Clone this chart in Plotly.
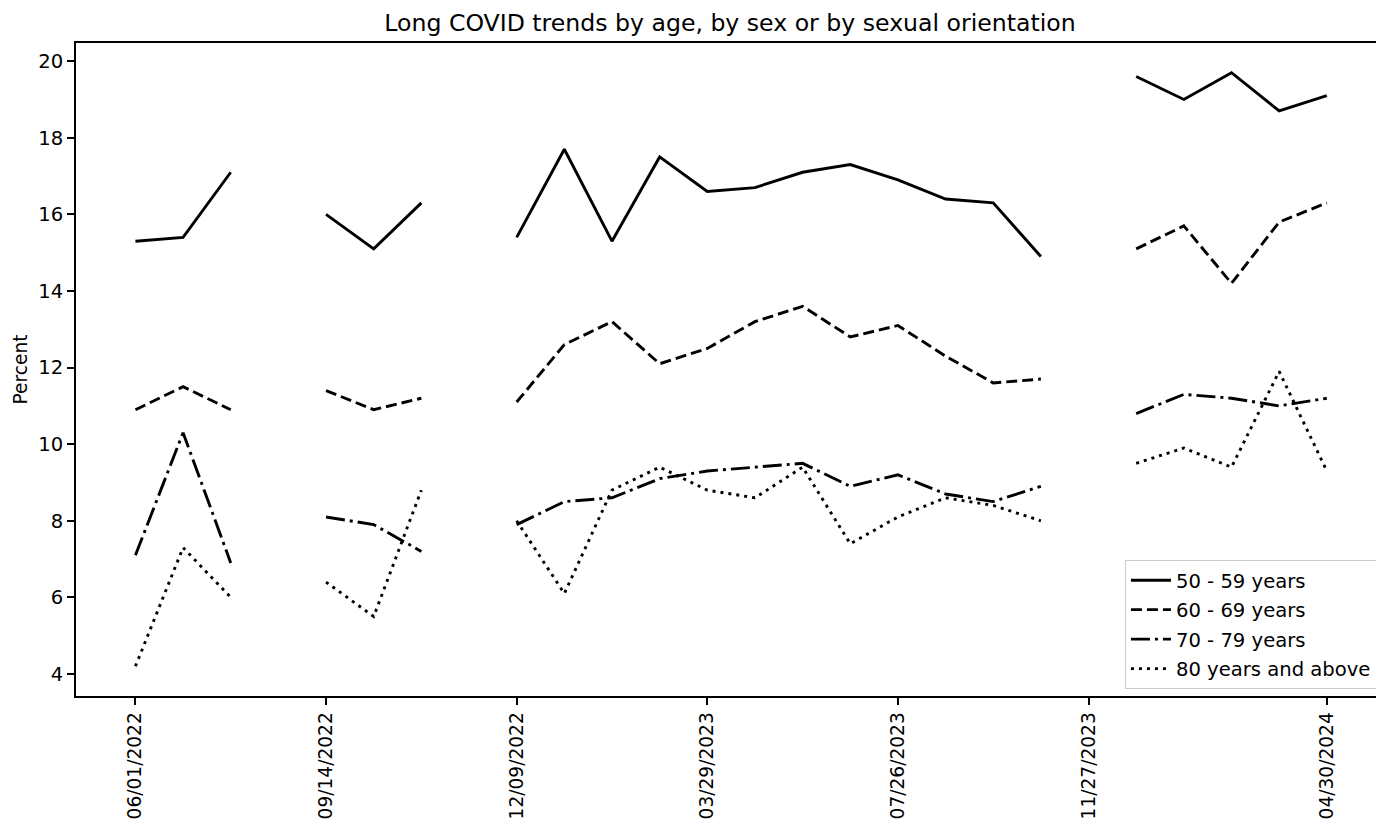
import plotly.graph_objects as go

# Survey periods (positions along a categorical time axis); None marks gaps
period_index = list(range(26))
tick_positions = [0, 4, 8, 12, 16, 20, 25]
tick_labels = ["06/01/2022", "09/14/2022", "12/09/2022", "03/29/2023",
               "07/26/2023", "11/27/2023", "04/30/2024"]

age_50_59 = [15.3, 15.4, 17.1, None, 16.0, 15.1, 16.3, None, 15.4, 17.7, 15.3, 17.5,
             16.6, 16.7, 17.1, 17.3, 16.9, 16.4, 16.3, 14.9, None, 19.6, 19.0, 19.7,
             18.7, 19.1]
age_60_69 = [10.9, 11.5, 10.9, None, 11.4, 10.9, 11.2, None, 11.1, 12.6, 13.2, 12.1,
             12.5, 13.2, 13.6, 12.8, 13.1, 12.3, 11.6, 11.7, None, 15.1, 15.7, 14.2,
             15.8, 16.3]
age_70_79 = [7.1, 10.3, 6.9, None, 8.1, 7.9, 7.2, None, 7.9, 8.5, 8.6, 9.1,
             9.3, 9.4, 9.5, 8.9, 9.2, 8.7, 8.5, 8.9, None, 10.8, 11.3, 11.2,
             11.0, 11.2]
age_80_plus = [4.2, 7.3, 6.0, None, 6.4, 5.5, 8.8, None, 8.0, 6.1, 8.8, 9.4,
               8.8, 8.6, 9.4, 7.4, 8.1, 8.6, 8.4, 8.0, None, 9.5, 9.9, 9.4,
               11.9, 9.3]

series_names = ["50 - 59 years", "60 - 69 years", "70 - 79 years", "80 years and above"]
series_values = [age_50_59, age_60_69, age_70_79, age_80_plus]
series_dash = ["solid", "11px,5px", "19px,5px,3px,5px", "3px,5px"]

FONT = "DejaVu Sans"

fig = go.Figure()
for i, (name, vals, dash) in enumerate(zip(series_names, series_values, series_dash)):
    fig.add_trace(go.Scatter(
        x=period_index, y=vals, name=name, mode="lines",
        line=dict(color="black", width=2.9, dash=dash),
        connectgaps=False, legendgroup=f"g{i}",
    ))

# page body has an 8px margin, so the figure is 8px smaller and margins shifted
fig.update_layout(
    width=1376, height=816,
    margin=dict(l=68, r=0, t=35, b=128),
    paper_bgcolor="white", plot_bgcolor="white",
    font=dict(family=FONT, size=19.6, color="black"),
    title=dict(text="Long COVID trends by age, by sex or by sexual orientation",
               x=0.5, xref="paper", xanchor="center",
               y=1 - 15 / 816, yanchor="middle",
               font=dict(family=FONT, size=23.6, color="black")),
    showlegend=True,
    legend=dict(x=0.9946, y=0.0108, xanchor="right", yanchor="bottom",
                bgcolor="rgba(255,255,255,0.8)", bordercolor="#cccccc", borderwidth=1,
                font=dict(family=FONT, size=19.6, color="black"),
                itemwidth=40, tracegroupgap=1),
)

fig.update_xaxes(
    range=[-1.247, 26.2], tickmode="array", tickvals=tick_positions, ticktext=tick_labels,
    tickangle=-90, ticks="outside", ticklen=7, tickwidth=1.6, tickcolor="black",
    showline=True, linecolor="black", linewidth=1.6, mirror=True,
    showgrid=False, zeroline=False, automargin=False,
    tickfont=dict(family=FONT, size=18.6, color="black"),
)
fig.update_yaxes(
    range=[3.425, 20.475], tickmode="linear", tick0=4, dtick=2,
    ticks="outside", ticklen=7, tickwidth=1.6, tickcolor="black",
    showline=True, linecolor="black", linewidth=1.6, mirror=False,
    showgrid=False, zeroline=False, automargin=False,
    tickfont=dict(family=FONT, size=19.6, color="black"),
    title=dict(text="Percent", standoff=6, font=dict(family=FONT, size=18.6, color="black")),
)

fig.write_html("out.html", config={"displayModeBar": False})
